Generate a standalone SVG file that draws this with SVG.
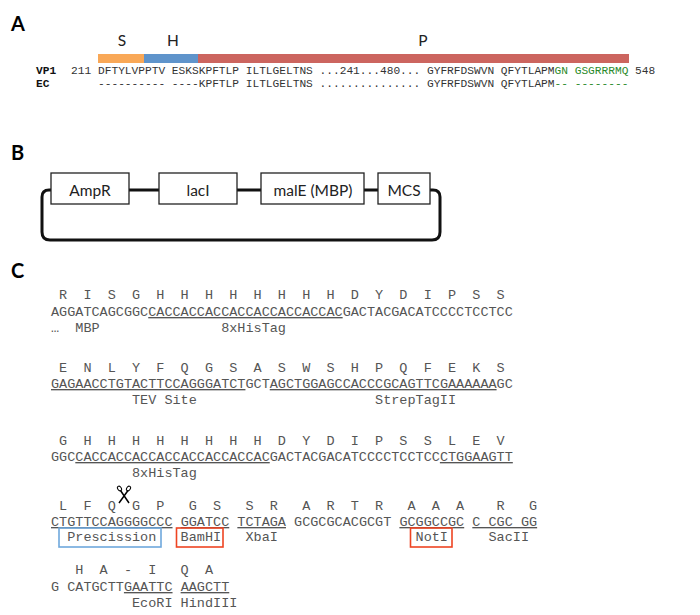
<svg xmlns="http://www.w3.org/2000/svg" width="700" height="615" viewBox="0 0 700 615">
<style>
text{white-space:pre}
.p{font:bold 20px "Lato","Open Sans",sans-serif;fill:#000}
.h{font:15.500px "Lato","Open Sans",sans-serif;fill:#222;text-anchor:middle}
.n{font:15.500px "Lato","Open Sans",sans-serif;fill:#222;text-anchor:middle}
.a{font:11.200px "Liberation Mono",monospace;fill:#333}
.b{font-weight:bold;fill:#111}
.g{fill:#2a8a2a}
.s{font:13.500px "Liberation Mono",monospace;fill:#555}
.u{text-decoration:underline;text-decoration-thickness:1.500px;text-underline-offset:1.500px}
.box{fill:#fff;stroke:#222;stroke-width:1.300}
.wire{fill:none;stroke:#111;stroke-width:3}
.hl{fill:none;stroke-width:1.600}
</style>
<rect width="700" height="615" fill="#fff"/>
<g id="panel-labels">
<text class="p" x="11" y="31">A</text>
<text class="p" x="11" y="160">B</text>
<text class="p" x="11" y="278">C</text>
</g>
<g id="alignment">
<rect x="98" y="54" width="46" height="9" fill="#F9A857"/>
<rect x="144" y="54" width="54" height="9" fill="#5F94CB"/>
<rect x="198" y="54" width="431" height="9" fill="#CC655F"/>
<text class="h" x="122" y="46">S</text>
<text class="h" x="173" y="46">H</text>
<text class="h" x="423" y="46">P</text>
<text class="a b" x="36" y="74">VP1</text>
<text class="a" x="71" y="74">211</text>
<text class="a" x="98" y="74">DFTYLVPPTV ESKSKPFTLP ILTLGELTNS ...241...480... GYFRFDSWVN QFYTLAPM<tspan class="g">GN GSGRRRMQ</tspan> 548</text>
<text class="a b" x="36" y="87">EC</text>
<text class="a" x="98" y="87">---------- ----KPFTLP ILTLGELTNS ............... GYFRFDSWVN QFYTLAPM<tspan class="g">-- --------</tspan></text>
</g>
<g id="connectors">
<path class="wire" d="M129 190H159M237 190H261M364 190H378"/>
<path class="wire" d="M51 190H49Q42 190 42 197V232Q42 240 50 240H432Q440 240 440 232V197Q440 190 433 190H430"/>
</g>
<g id="node-ampr"><rect class="box" x="51" y="173" width="78" height="31"/><text class="n" x="90" y="196">AmpR</text></g>
<g id="node-laci"><rect class="box" x="159" y="173" width="78" height="31"/><text class="n" x="198" y="196">lacI</text></g>
<g id="node-male"><rect class="box" x="261" y="173" width="103" height="31"/><text class="n" x="313" y="196">malE (MBP)</text></g>
<g id="node-mcs"><rect class="box" x="378" y="173" width="52" height="31"/><text class="n" x="404" y="196">MCS</text></g>
<g id="sequence">
<text class="s" x="51" y="299"> R  I  S  G  H  H  H  H  H  H  H  H  D  Y  D  I  P  S  S</text>
<text class="s" x="51" y="316">AGGATCAGCGGC<tspan class="u">CACCACCACCACCACCACCACCAC</tspan>GACTACGACATCCCCTCCTCC</text>
<text class="s" x="51" y="332">…  MBP               8xHisTag</text>
<text class="s" x="51" y="372"> E  N  L  Y  F  Q  G  S  A  S  W  S  H  P  Q  F  E  K  S</text>
<text class="s" x="51" y="388"><tspan class="u">GAGAACCTGTACTTCCAGGGATCT</tspan>GCT<tspan class="u">AGCTGGAGCCACCCGCAGTTCGAAAAAA</tspan>GC</text>
<text class="s" x="51" y="404">          TEV Site                      StrepTagII</text>
<text class="s" x="51" y="445"> G  H  H  H  H  H  H  H  H  D  Y  D  I  P  S  S  L  E  V</text>
<text class="s" x="51" y="461">GGC<tspan class="u">CACCACCACCACCACCACCACCAC</tspan>GACTACGACATCCCCTCCTCC<tspan class="u">CTGGAAGTT</tspan></text>
<text class="s" x="51" y="477">          8xHisTag</text>
<text class="s" x="51" y="510"> L  F  Q  G  P   G  S   S  R   A  R  T  R   A  A  A    R   G</text>
<text class="s" x="51" y="526"><tspan class="u">CTGTTCCAGGGGCCC</tspan> <tspan class="u">GGATCC</tspan> <tspan class="u">TCTAGA</tspan> GCGCGCACGCGT <tspan class="u">GCGGCCGC</tspan> <tspan class="u">C CGC GG</tspan></text>
<text class="s" x="51" y="541">  Prescission   BamHI   XbaI                 NotI     SacII</text>
<text class="s" x="51" y="574">   H  A  -  I   Q  A</text>
<text class="s" x="51" y="591">G CATGCTT<tspan class="u">GAATTC</tspan> <tspan class="u">AAGCTT</tspan></text>
<text class="s" x="51" y="607">          EcoRI HindIII</text>
</g>
<g id="highlights">
<rect class="hl" x="59" y="528" width="102" height="19" stroke="#6FA8DC"/>
<rect class="hl" x="176.500" y="528" width="46.500" height="19" stroke="#EE4422"/>
<rect class="hl" x="410.500" y="528" width="41.500" height="19" stroke="#EE4422"/>
</g>
<g id="scissors" fill="none" stroke="#000">
<path d="M120.500 490.500L129 503M128 490.500L119 503" stroke-width="1.500"/>
<ellipse cx="119.500" cy="488.500" rx="1.800" ry="2.500" transform="rotate(-35 119.500 488.500)" stroke-width="1"/>
<ellipse cx="128.500" cy="488.500" rx="1.800" ry="2.500" transform="rotate(35 128.500 488.500)" stroke-width="1"/>
</g>
</svg>
